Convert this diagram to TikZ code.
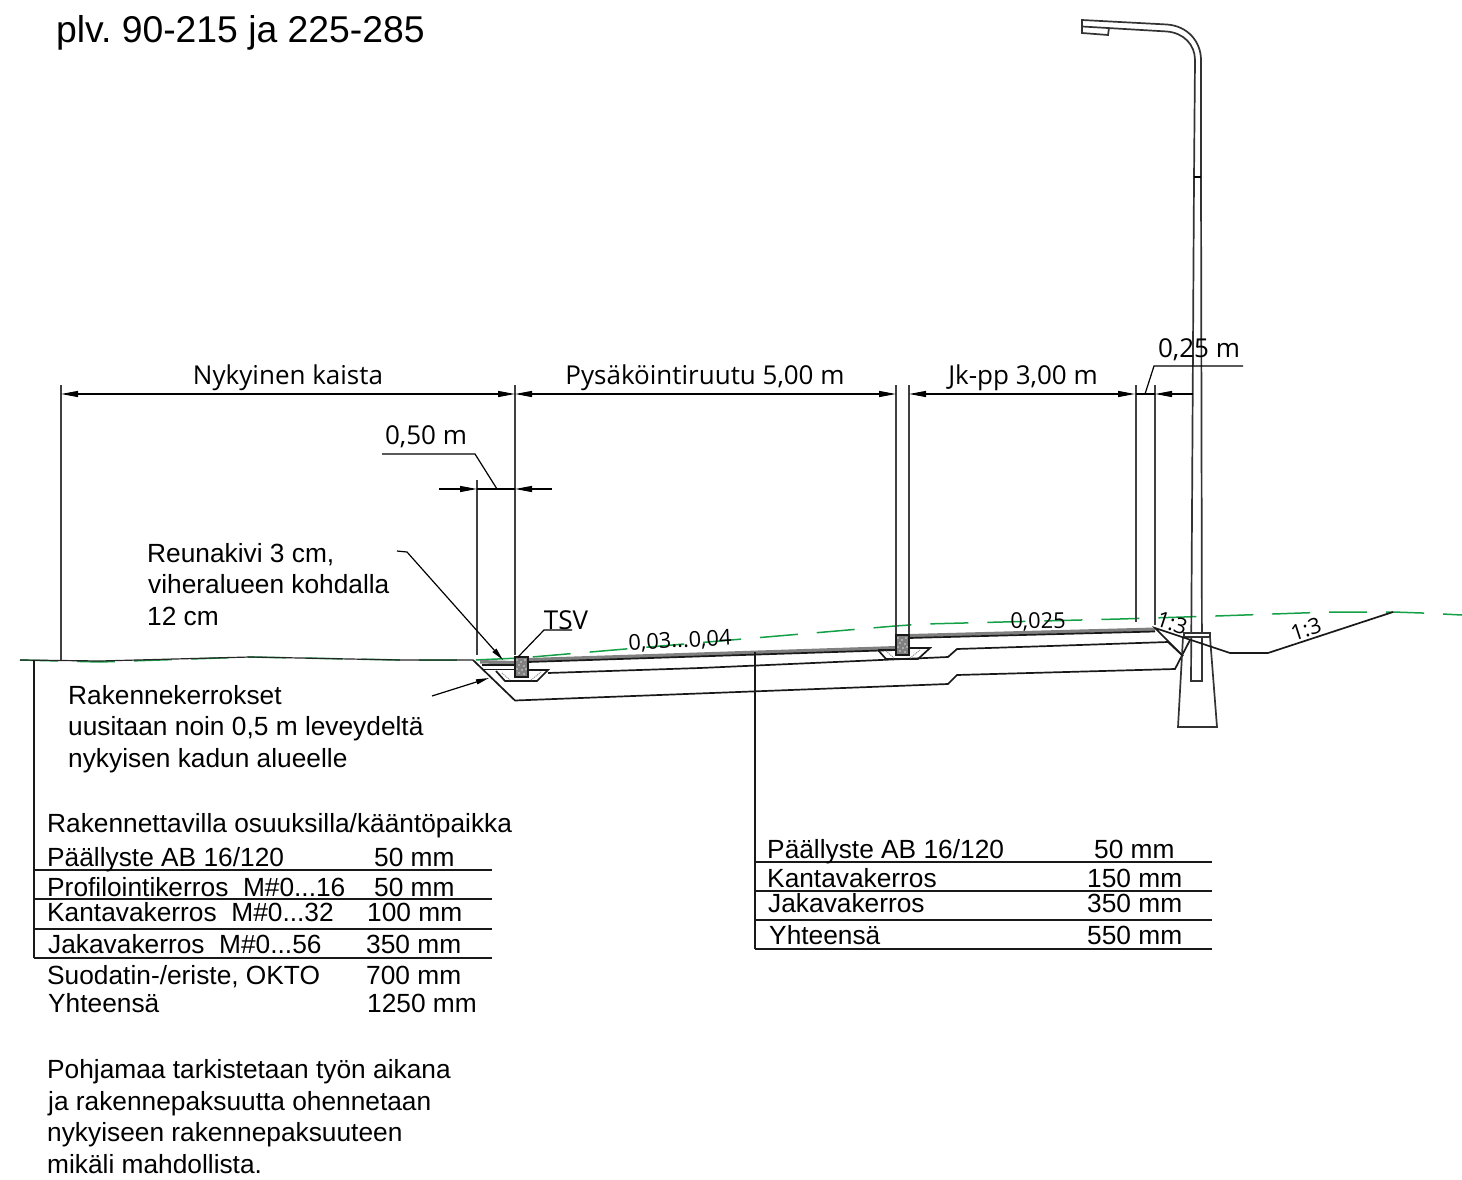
\documentclass[tikz,border=0pt]{standalone}
\usepackage{fontspec}
\setmainfont{Liberation Sans}
\newfontfamily\dimfont{Open Sans}
\usetikzlibrary{arrows.meta}
\frenchspacing
\tikzset{
  txt/.style={anchor=base west,inner sep=0pt,font=\fontsize{26.3}{30}\selectfont},
  dimtxt/.style={anchor=base,inner sep=0pt,font=\dimfont\fontsize{26}{30}\selectfont},
  slopetxt/.style={anchor=center,inner sep=0pt,font=\dimfont\fontsize{21.8}{25}\selectfont},
  ln/.style={line width=1.7pt,black!90},
  ext/.style={line width=1.7pt,black!75},
  dimline/.style={line width=1.2pt,black},
  tipr/.style={-{Triangle[length=17pt,width=6pt]}},
  tipl/.style={{Triangle[length=17pt,width=6pt]}-},
  tipb/.style={{Triangle[length=17pt,width=6pt]}-{Triangle[length=17pt,width=6pt]}},
  greenl/.style={line width=1.5pt,color={rgb,255:red,20;green,160;blue,70},dash pattern=on 38pt off 19pt},
  band/.style={fill=black!50,draw=none},
  curbstone/.style={draw=black!90,line width=1.4pt,fill=black!50},
  pole/.style={line width=1.7pt,black!80},
  speck/.style={fill=black!15,draw=none},
}
\begin{document}
\begin{tikzpicture}[x=1pt,y=-1pt]
\useasboundingbox (0,0) rectangle (1462,1180);
% green existing ground
\draw[greenl] (20,660) -- (100,662) -- (250,657) -- (400,660) -- (475,660) -- (520,658) -- (895,626) -- (925,624) -- (1120,619) -- (1216,616) -- (1330,612) -- (1393,612) -- (1422,613) -- (1462,615);
% existing ground
\draw[line width=1.2pt,black!85] (20,660) -- (100,661) -- (250,657) -- (400,660) -- (473,660);
% structure bottom
\draw[ln] (473,660) -- (515,700.5) -- (948,684) -- (957,675) -- (1175,669) -- (1190,640);
% structure layer
\draw[ln] (548,673) -- (700,668) -- (948,657) -- (957,649) -- (1050,646) -- (1168,642) -- (1183,656);
% paving
\path[band] (480,660) -- (515,661) -- (515,664.5) -- (480,663.5) -- cycle;
\path[band] (528,658) -- (896,646) -- (896,650) -- (528,662) -- cycle;
\path[band] (909,634) -- (1155,627.5) -- (1155,631) -- (909,637.5) -- cycle;
\draw[ln] (528,662) -- (896,650);
\draw[ln] (909,638) -- (1155,631.5);
% small layers and curb bases
\draw[ln] (482,665) -- (515,665) (482,669.5) -- (515,669.5);
\draw[ln] (496,671) -- (505,681) -- (537,681) -- (548,670) -- (528,670);
\draw[ln] (878,650) -- (886,659) -- (918,659) -- (930,648) -- (909,648);
\draw[ln] (878,650) -- (896,650);
\draw[black!45,line width=1pt,densely dotted] (502,673) -- (510,680) (531,680) -- (541,672);
\draw[black!45,line width=1pt,densely dotted] (886,651) -- (894,658) (910,658) -- (920,650);
% curbs
\draw[curbstone] (515,657) rectangle (528,677);
\draw[curbstone] (896,635) rectangle (909,655);
\foreach \dx/\dy in {2/3,6/5,10/3,4/8,9/9,2/12,7/13,11/12,4/16,9/17}{
  \fill[speck] (515+\dx,657+\dy) circle (0.8pt);
  \fill[speck] (896+\dx,635+\dy) circle (0.8pt);
}
% lamp post
\draw[pole] (1082,20) -- (1167,24.5) .. controls (1188,26) and (1201,42) .. (1201,60) -- (1201,178) -- (1202,681) -- (1191,681) -- (1194,178) -- (1195,60) .. controls (1195,45) and (1184,33) .. (1167,31.5) -- (1082,26.5) -- cycle;
\draw[line width=1.2pt] (1194,177) -- (1201,177);
\draw[pole] (1082,26.5) -- (1082,33) -- (1108,35) -- (1109,28);
% foundation
\draw[pole,fill=white] (1184,633) rectangle (1210,637);
\draw[pole] (1183,637) -- (1178,727) -- (1217,727) -- (1210,637);
% slope
\draw[ln] (1183,656) -- (1155,628) -- (1230,653) -- (1268,653) -- (1393,612);
% extension lines
\draw[ext] (61,385) -- (61,660);
\draw[ext] (515,385) -- (515,655);
\draw[ext] (477,480) -- (477,655);
\draw[ext] (896,385) -- (896,634);
\draw[ext] (909,385) -- (909,634);
\draw[ext] (1136,385) -- (1136,622);
\draw[ext] (1155,385) -- (1155,625);
% dimensions
\draw[dimline,tipb] (61,394) -- (515,394);
\draw[dimline,tipb] (515,394) -- (896,394);
\draw[dimline,tipb] (909,394) -- (1135,394);
\draw[dimline] (1136,394) -- (1155,394);
\draw[dimline,tipl] (1155,394) -- (1193,394);
\draw[dimline,tipr] (439,489) -- (477,489);
\draw[dimline] (477,489) -- (515,489);
\draw[dimline,tipl] (515,489) -- (552,489);
\draw[dimline] (1145,394) -- (1154,366) -- (1243,366);
\draw[dimline] (497,489) -- (475,454) -- (382,454);
% callouts
\draw[dimline,-{Triangle[length=13pt,width=5pt]}] (397,551) -- (407,552) -- (503,660);
\draw[dimline,-{Triangle[length=13pt,width=5pt]}] (432,696) -- (489,678);
\draw[dimline] (518,657) -- (544,630) -- (572,630);
% table leaders
\draw[ln] (34,660) -- (34,958);
\draw[ln] (34,870) -- (492,870) (34,899) -- (492,899) (34,929) -- (492,929) (34,958) -- (492,958);
\draw[ln] (755,652) -- (755,949);
\draw[ln] (755,862) -- (1212,862) (755,891) -- (1212,891) (755,920) -- (1212,920) (755,949) -- (1212,949);
% title
\node[txt,font=\fontsize{37.3}{40}\selectfont] (title) at (56,43) {plv. 90-215 ja 225-285};
% dimension texts
\node[dimtxt] (d1) at (288,384) {Nykyinen kaista};
\node[dimtxt] (d2) at (705,384) {Pysäköintiruutu 5,00 m};
\node[dimtxt] (d3) at (1023,384) {Jk-pp 3,00 m};
\node[dimtxt] (d4) at (1199,357) {0,25 m};
\node[dimtxt] (d5) at (426,444) {0,50 m};
\node[dimtxt] (tsv) at (566,629) {TSV};
% slopes
\node[slopetxt,rotate=3] (s1) at (680,641) {0,03...0,04};
\node[slopetxt,rotate=1] (s2) at (1038,622) {0,025};
\node[slopetxt,rotate=-18] (s3) at (1172,623) {1:3};
\node[slopetxt,rotate=18] (s4) at (1306,629) {1:3};
% left notes
\node[txt] (a1) at (147,562) {Reunakivi 3 cm,};
\node[txt] (a2) at (148,593) {viheralueen kohdalla};
\node[txt] (a3) at (147,625) {12 cm};
\node[txt] (b1) at (68,704) {Rakennekerrokset};
\node[txt] (b2) at (68,735) {uusitaan noin 0,5 m leveydeltä};
\node[txt] (b3) at (68,767) {nykyisen kadun alueelle};
\node[txt] (c0) at (47,832) {Rakennettavilla osuuksilla/kääntöpaikka};
\node[txt] (c1) at (47,866) {Päällyste AB 16/120};
\node[txt] (c1v) at (374,866) {50 mm};
\node[txt] (c2) at (47,896) {Profilointikerros\ \ M\#0...16};
\node[txt] (c2v) at (374,896) {50 mm};
\node[txt] (c3) at (47,921) {Kantavakerros\ \ M\#0...32};
\node[txt] (c3v) at (367,921) {100 mm};
\node[txt] (c4) at (48,953) {Jakavakerros\ \ M\#0...56};
\node[txt] (c4v) at (366,953) {350 mm};
\node[txt] (c5) at (47,984) {Suodatin-/eriste, OKTO};
\node[txt] (c5v) at (366,984) {700 mm};
\node[txt] (c6) at (48,1012) {Yhteensä};
\node[txt] (c6v) at (367,1012) {1250 mm};
\node[txt] (e1) at (47,1078) {Pohjamaa tarkistetaan työn aikana};
\node[txt] (e2) at (48,1110) {ja rakennepaksuutta ohennetaan};
\node[txt] (e3) at (47,1141) {nykyiseen rakennepaksuuteen};
\node[txt] (e4) at (47,1173) {mikäli mahdollista.};
% right table
\node[txt] (r1) at (767,858) {Päällyste AB 16/120};
\node[txt] (r1v) at (1094,858) {50 mm};
\node[txt] (r2) at (767,887) {Kantavakerros};
\node[txt] (r2v) at (1087,887) {150 mm};
\node[txt] (r3) at (768,912) {Jakavakerros};
\node[txt] (r3v) at (1087,912) {350 mm};
\node[txt] (r4) at (769,944) {Yhteensä};
\node[txt] (r4v) at (1087,944) {550 mm};
\end{tikzpicture}
\end{document}
